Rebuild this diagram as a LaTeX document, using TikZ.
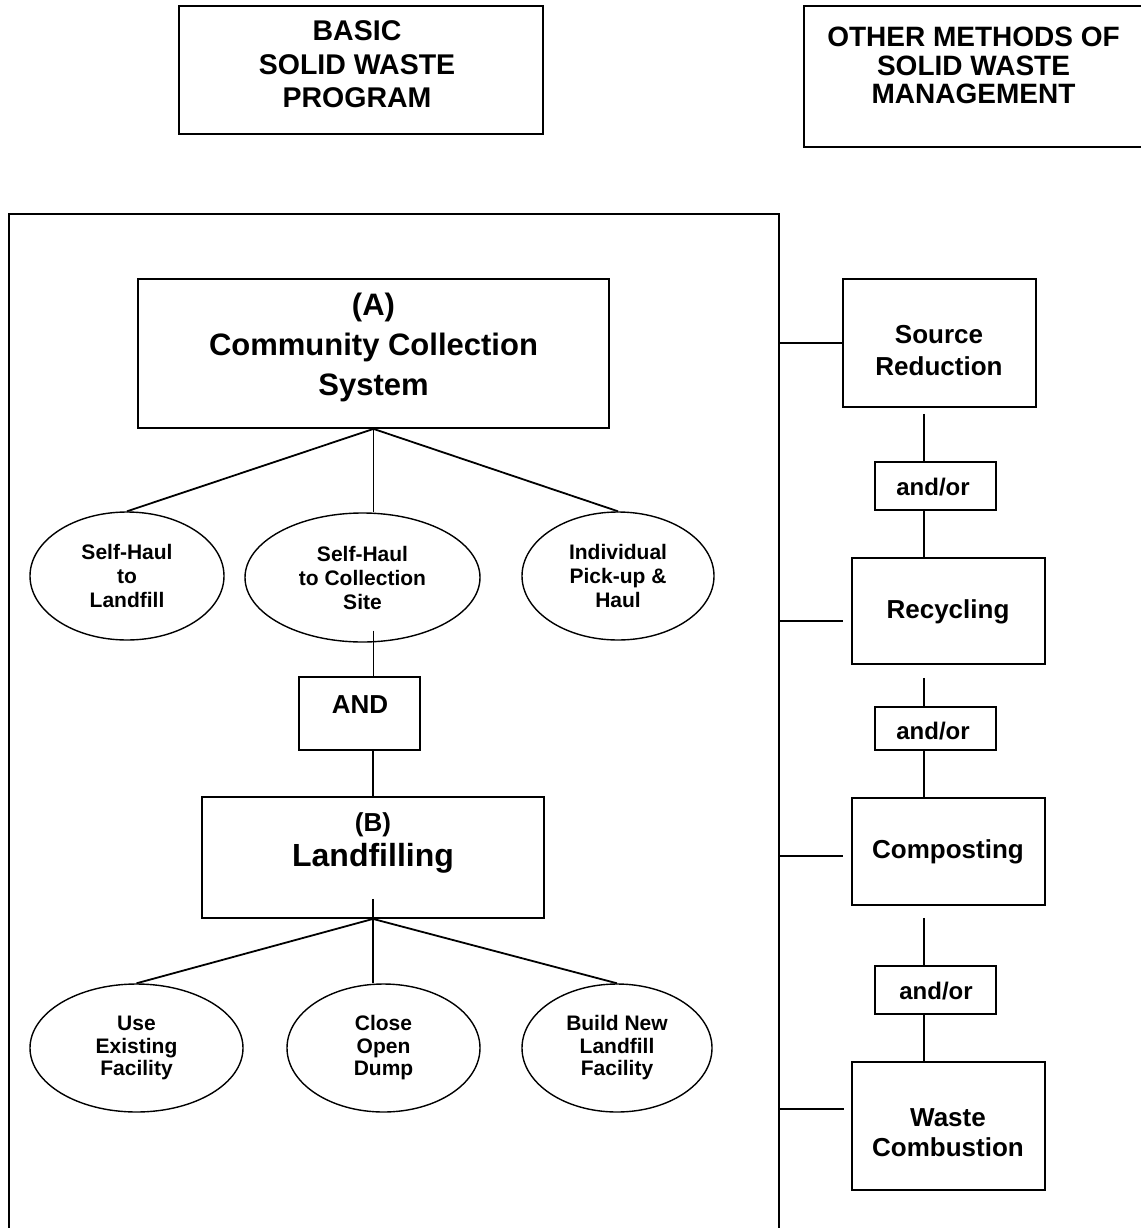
\documentclass[tikz,border=0pt]{standalone}
\usepackage{fontspec}
\setmainfont{Liberation Sans}
\usetikzlibrary{shapes.geometric,calc}
\tikzset{
        % Plain boxes
        wastebox/.style={rectangle, draw=black, line width=1.8pt, inner sep=0pt},
        % Box captions
        boxtext/.style={align=center, inner sep=0pt, text=black},
        % Options in the ellipses
        option/.style={ellipse, draw=black, line width=1.4pt, inner sep=0pt, align=center, minimum height=128pt,
                font=\bfseries\fontsize{21}{24}\selectfont},
        % Connectors
        link/.style={line width=1.8pt}
}

\begin{document}
\begin{tikzpicture}[x=1pt, y=-1pt]
    \useasboundingbox[fill=white] (0,0) rectangle (1140,1228);

    \node[wastebox, minimum width=364pt, minimum height=128pt] (basic) at (361,70) {};
    \node[boxtext, font=\bfseries\fontsize{28.5}{33.5}\selectfont] (basictxt) at (357,64.5) {BASIC\\SOLID WASTE\\PROGRAM};
    \node[wastebox, minimum width=400pt, minimum height=141pt] (other) at (1004,76.5) {};
    \node[boxtext, font=\bfseries\fontsize{28}{28.5}\selectfont] (othertxt) at (973.5,65.5) {OTHER METHODS OF\\SOLID WASTE\\MANAGEMENT};

    \draw[link] (9,1240) -- (9,214) -- (779,214) -- (779,1240);
    \coordinate (frameR) at (779,214);

    % (A) and its options
    \node[wastebox, minimum width=471pt, minimum height=149pt] (cc) at (373.5,353.5) {};
    \node[boxtext, font=\bfseries\fontsize{31}{40}\selectfont] (cctxt) at (373.5,347) {(A)\\Community Collection\\System};
    \node[option, minimum width=194pt] (sh1) at (127,576) {Self-Haul\\to\\Landfill};
    \node[option, minimum width=235pt, minimum height=129pt] (sh2) at (362.5,577.5) {Self-Haul\\to Collection\\Site};
    \node[option, minimum width=192pt] (ind) at (618,576) {Individual\\Pick-up \&\\Haul};

    \node[wastebox, minimum width=121pt, minimum height=73pt] (andb) at (359.5,713.5) {};
    \node[boxtext, font=\bfseries\fontsize{26}{30}\selectfont] (andtxt) at (360,705) {AND};

    % (B) and its options
    \node[wastebox, minimum width=342pt, minimum height=121pt] (lf) at (373,857.5) {};
    \node[boxtext, font=\bfseries\fontsize{32}{35.5}\selectfont] (lftxt) at (373,843) {{\fontsize{26}{30}\selectfont(B)}\\Landfilling};
    \node[option, minimum width=213pt, font=\bfseries\fontsize{21}{22.5}\selectfont] (use) at (136.5,1048) {Use\\Existing\\Facility};
    \node[option, minimum width=193pt, font=\bfseries\fontsize{21}{22.5}\selectfont] (close) at (383.5,1048) {Close\\Open\\Dump};
    \node[option, minimum width=190pt, font=\bfseries\fontsize{21}{22.5}\selectfont] (build) at (617,1048) {Build New\\Landfill\\Facility};

    \draw[link] (cc.south) -- (sh1.north);
    \draw[link] (cc.south) -- (cc.south |- sh2.north);
    \draw[link] (cc.south) -- (ind.north);
    \draw[link] ($(cc.south |- sh2.south)+(0,-12)$) -- (cc.south |- andb.north);
    \draw[link] (andb.south -| lf.north) -- (lf.north);
    \draw[link] ($(lf.south)+(0,-20)$) -- (lf.south);
    \draw[link] (lf.south) -- (use.north);
    \draw[link] (lf.south) -- (lf.south |- close.north);
    \draw[link] (lf.south) -- (build.north);

    % other methods
    \node[wastebox, minimum width=193pt, minimum height=128pt] (sr) at (939.5,343) {};
    \node[boxtext, font=\bfseries\fontsize{26}{32}\selectfont] (srtxt) at (939,351) {Source\\Reduction};
    \node[wastebox, minimum width=121pt, minimum height=48pt] (and1) at (935.5,486) {};
    \node[boxtext, font=\bfseries\fontsize{24}{28}\selectfont] (and1txt) at (933,487) {and/or};
    \node[wastebox, minimum width=193pt, minimum height=106pt] (rec) at (948.5,611) {};
    \node[boxtext, font=\bfseries\fontsize{26}{32}\selectfont] (rectxt) at (948,612) {Recycling};
    \node[wastebox, minimum width=121pt, minimum height=43pt] (and2) at (935.5,728.5) {};
    \node[boxtext, font=\bfseries\fontsize{24}{28}\selectfont] (and2txt) at (933,731) {and/or};
    \node[wastebox, minimum width=193pt, minimum height=107pt] (comp) at (948.5,851.5) {};
    \node[boxtext, font=\bfseries\fontsize{26}{32}\selectfont] (comptxt) at (948,852) {Composting};
    \node[wastebox, minimum width=121pt, minimum height=48pt] (and3) at (935.5,990) {};
    \node[boxtext, font=\bfseries\fontsize{24}{28}\selectfont] (and3txt) at (936,991) {and/or};
    \node[wastebox, minimum width=193pt, minimum height=128pt] (wc) at (948.5,1126) {};
    \node[boxtext, font=\bfseries\fontsize{26}{30}\selectfont] (wctxt) at (948,1133) {Waste\\Combustion};

    \coordinate (rcol) at (924,0);
    \draw[link] ($(rcol |- sr.south)+(0,6)$) -- (rcol |- and1.north);
    \draw[link] (rcol |- and1.south) -- (rcol |- rec.north);
    \draw[link] ($(rcol |- rec.south)+(0,13)$) -- (rcol |- and2.north);
    \draw[link] (rcol |- and2.south) -- (rcol |- comp.north);
    \draw[link] ($(rcol |- comp.south)+(0,12)$) -- (rcol |- and3.north);
    \draw[link] (rcol |- and3.south) -- (rcol |- wc.north);

    \coordinate (recin) at ($(rec.west)+(-8,10)$);
    \coordinate (compin) at ($(comp.west)+(-8,4.5)$);
    \coordinate (wcin) at ($(wc.west)+(-7,-17)$);
    \draw[link] (frameR |- sr.west) -- (sr.west);
    \draw[link] (frameR |- recin) -- (recin);
    \draw[link] (frameR |- compin) -- (compin);
    \draw[link] (frameR |- wcin) -- (wcin);
\end{tikzpicture}
\end{document}
